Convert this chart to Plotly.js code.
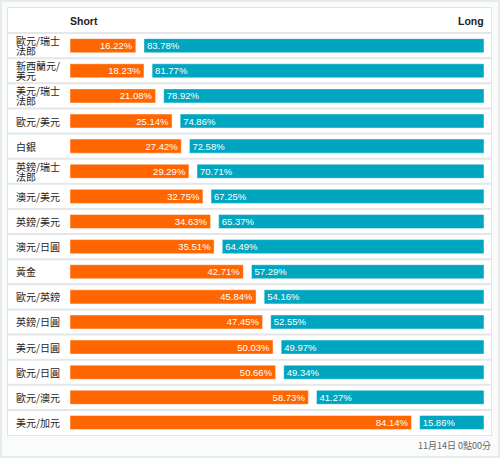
<!DOCTYPE html>
<html>
<head>
<meta charset="utf-8">
<script src="https://cdn.plot.ly/plotly-3.0.1.min.js"></script>
<style>
  html, body { margin: 0; padding: 0; background: #ffffff; }
  #wrap { width: 496px; height: 454px; border: 2px solid #e6ebed; }
  #chart { width: 496px; height: 454px; }
</style>
</head>
<body>
<div id="wrap"><div id="chart"></div></div>
<script>
const categories = [
  "歐元/瑞士<br>法郎", "新西蘭元/<br>美元", "美元/瑞士<br>法郎", "歐元/美元", "白銀",
  "英鎊/瑞士<br>法郎", "澳元/美元", "英鎊/美元", "澳元/日圓", "黃金",
  "歐元/英鎊", "英鎊/日圓", "美元/日圓", "歐元/日圓", "歐元/澳元", "美元/加元"
];
const shortPct = [16.22, 18.23, 21.08, 25.14, 27.42, 29.29, 32.75, 34.63, 35.51, 42.71, 45.84, 47.45, 50.03, 50.66, 58.73, 84.14];
const longPct  = [83.78, 81.77, 78.92, 74.86, 72.58, 70.71, 67.25, 65.37, 64.49, 57.29, 54.16, 52.55, 49.97, 49.34, 41.27, 15.86];
const headerLabels = ["Short", "Long"];
const timestamp = "11月14日 0點00分";

const GAP = 2;                 // gap between the two bars, in axis units
const pxPerUnit = 414 / (100 + GAP);
const xMin = -62 / pxPerUnit;
const xMax = (100 + GAP) + 7 / pxPerUnit;

const ids = categories.map((c, i) => i);
const barLine = { color: "rgba(255,255,255,0.45)", width: 1 };
const txtFont = { family: "Liberation Sans, Arial, sans-serif", size: 9.5, color: "#ffffff" };

const traces = [
  {
    type: "bar", orientation: "h", y: ids, x: shortPct, base: 0,
    marker: { color: "#ff6600", line: barLine },
    width: 0.56,
    texttemplate: "%{x:.2f}%", textposition: "inside", insidetextanchor: "end",
    textfont: txtFont, constraintext: "none", hoverinfo: "skip", cliponaxis: false
  },
  {
    type: "bar", orientation: "h", y: ids, x: longPct,
    base: shortPct.map(v => v + GAP),
    marker: { color: "#00a6c0", line: barLine },
    width: 0.56,
    texttemplate: "%{x:.2f}%", textposition: "inside", insidetextanchor: "start",
    textfont: txtFont, constraintext: "none", hoverinfo: "skip", cliponaxis: false
  }
];

const cjk = "Noto Sans CJK TC, Noto Sans CJK SC, sans-serif";
const annotations = [];
categories.forEach((c, i) => {
  const lines = c.split("<br>");
  lines.forEach((ln, k) => {
    const shift = lines.length === 1 ? 0 : (k === 0 ? 5 : -5);
    annotations.push({
      xref: "paper", yref: "y", x: 7 / 483, y: i, xanchor: "left", yanchor: "middle",
      yshift: shift, text: ln, align: "left", showarrow: false, borderpad: 0,
      font: { family: cjk, size: 10, color: "#1e1e1e" }
    });
  });
});
annotations.push({
  xref: "x", yref: "y", x: 0, y: -1, xanchor: "left", yanchor: "middle", xshift: -2,
  text: "<b>" + headerLabels[0] + "</b>", showarrow: false,
  font: { family: "Liberation Sans, Arial, sans-serif", size: 10.5, color: "#222222" }
});
annotations.push({
  xref: "x", yref: "y", x: 100 + GAP, y: -1, xanchor: "right", yanchor: "middle", xshift: 2,
  text: "<b>" + headerLabels[1] + "</b>", showarrow: false,
  font: { family: "Liberation Sans, Arial, sans-serif", size: 10.5, color: "#222222" }
});
annotations.push({
  xref: "paper", yref: "paper", x: 1, y: 0, xanchor: "right", yanchor: "top", yshift: -2, xshift: 2,
  text: timestamp, showarrow: false,
  font: { family: cjk, size: 9, color: "#666666" }
});

// row separators between categories (and under the header row)
const shapes = [];
for (let i = -1; i < categories.length - 1; i++) {
  shapes.push({
    type: "line", layer: "between", xref: "paper", yref: "y",
    x0: 0, x1: 1, y0: i + 0.5, y1: i + 0.5,
    line: { color: "#e4e6e7", width: 2 }
  });
}

const layout = {
  width: 496, height: 454,
  margin: { l: 6, r: 7, t: 6, b: 21, pad: 0 },
  paper_bgcolor: "#fafbfb", plot_bgcolor: "#ffffff",
  showlegend: false,
  barmode: "overlay",
  xaxis: {
    range: [xMin, xMax], showgrid: false, zeroline: false, showticklabels: false,
    ticks: "", showline: true, mirror: true, linecolor: "#e2e5e6", linewidth: 1, fixedrange: true
  },
  yaxis: {
    type: "linear", range: [categories.length - 0.5, -1.5],
    showgrid: false, zeroline: false, showticklabels: false, ticks: "",
    showline: true, mirror: true, linecolor: "#e2e5e6", linewidth: 1, fixedrange: true
  },
  shapes: shapes,
  annotations: annotations
};

Plotly.newPlot("chart", traces, layout, { displayModeBar: false, staticPlot: true });
</script>
</body>
</html>
